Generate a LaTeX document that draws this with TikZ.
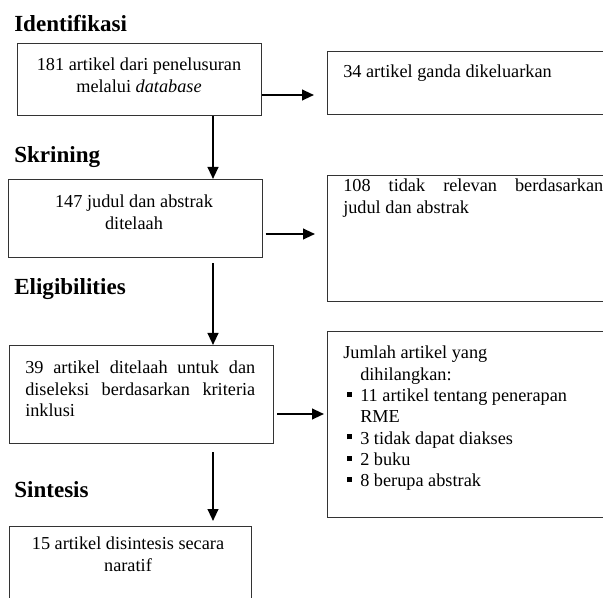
\documentclass[tikz,border=0pt]{standalone}
\usepackage{fontspec}
\setmainfont{Liberation Serif}
\usetikzlibrary{arrows.meta}

\newcommand{\blt}{\makebox[12.75pt][l]{\hspace{2.5pt}\rule[3.6pt]{3.8pt}{3.8pt}}}
\newcommand{\ind}{\hspace*{12.75pt}}

\begin{document}
\begin{tikzpicture}[x=0.75pt,y=-0.75pt,
    stage/.style={font=\fontsize{17.3}{20}\selectfont\bfseries, anchor=base west, inner sep=0pt},
    frame/.style={draw=black!80, line width=0.8pt, anchor=north west, inner sep=0pt},
    txt/.style={font=\fontsize{13.7}{16}\selectfont, inner sep=0pt},
    flow/.style={-{Triangle[length=9pt,width=8pt]}, line width=1.5pt}]
    \clip(0,0)rectangle(603,598);

    \node[stage](idt)at(14,32){Identifikasi};
    \node[stage](skt)at(14,163){Skrining};
    \node[stage](elt)at(14,295){Eligibilities};
    \node[stage](sit)at(14,497){Sintesis};

    \node[frame, minimum width=183pt, minimum height=54pt](idbox)at(17,43){};
    \node[frame, minimum width=225pt, minimum height=47.25pt](gandabox)at(327,51){};
    \node[frame, minimum width=190.5pt, minimum height=58.5pt](skrbox)at(8,179){};
    \node[frame, minimum width=225pt, minimum height=94.5pt](relbox)at(327,175){};
    \node[frame, minimum width=198pt, minimum height=73.5pt](elbox)at(9,345){};
    \node[frame, minimum width=225pt, minimum height=139.5pt](hilbox)at(327,331){};
    \node[frame, minimum width=181.5pt, minimum height=67.5pt](sinbox)at(9,526){};

    \node[txt, anchor=north, align=center](idtxt)at(139,58){181 artikel dari penelusuran\\melalui \textit{database}};
    \node[txt, anchor=north west](gandatxt)at(343,65){34 artikel ganda dikeluarkan};
    \node[txt, anchor=north, align=center](skrtxt)at(134,195){147 judul dan abstrak\\ditelaah};
    \node[txt, anchor=north west, text width=195pt, align=justify](reltxt)at(343,179){108 tidak relevan berdasarkan\linebreak judul dan abstrak};
    \node[txt, anchor=north west, text width=172.5pt, align=justify](eltxt)at(25,361){39 artikel ditelaah untuk dan\linebreak diseleksi berdasarkan kriteria\linebreak inklusi};
    \node[txt, anchor=north west, align=left](hiltxt)at(343,346){Jumlah artikel yang\\
        \ind dihilangkan:\\
        \blt 11 artikel tentang penerapan\\
        \ind RME\\
        \blt 3 tidak dapat diakses\\
        \blt 2 buku\\
        \blt 8 berupa abstrak};
    \node[txt, anchor=north, align=center](sintxt)at(128,537){15 artikel disintesis secara\\naratif};

    \draw[flow, shorten >=9.75pt](idbox.east|-0,95)--(gandabox.west|-0,95);
    \draw[flow](idbox.south-|213,0)--(skrbox.north-|213,0);
    \draw[flow, shorten <=2pt, shorten >=9pt](skrbox.east|-0,234)--(relbox.west|-0,234);
    \draw[flow, shorten <=4pt](skrbox.south-|213,0)--(elbox.north-|213,0);
    \draw[flow, shorten <=2.25pt, shorten >=2.25pt](elbox.east|-0,414)--(hilbox.west|-0,414);
    \draw[flow, shorten <=6pt, shorten >=3.75pt](elbox.south-|213,0)--(sinbox.north-|213,0);
\end{tikzpicture}
\end{document}
